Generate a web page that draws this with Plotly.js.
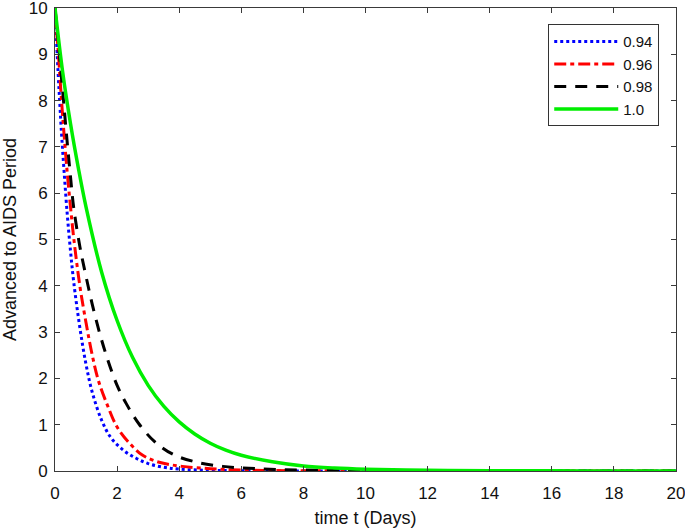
<!DOCTYPE html>
<html><head><meta charset="utf-8">
<script src="https://cdn.plot.ly/plotly-3.0.1.min.js"></script>
<style>body{margin:0;padding:0;background:#fff}#chart{width:685px;height:528px}</style>
</head><body><div id="chart"></div>
<script>
const seriesNames = ["0.94", "0.96", "0.98", "1.0"];
const tBlue  = [0, 0.05, 0.1, 0.15, 0.2, 0.3, 0.4, 0.5, 0.6, 0.8, 1.0, 1.2, 1.5, 1.8, 2.2, 2.6, 3, 3.5, 4, 5, 6, 8, 10, 20];
const yBlue  = [10, 9.3, 8.6, 8.0, 7.4, 6.4, 5.5, 4.75, 4.1, 3.1, 2.3, 1.7, 1.1, 0.72, 0.45, 0.28, 0.16, 0.08, 0.04, 0.015, 0.006, 0.002, 0, 0];
const tRed   = [0, 0.05, 0.1, 0.2, 0.3, 0.4, 0.5, 0.6, 0.8, 1.0, 1.2, 1.4, 1.7, 2.0, 2.4, 2.8, 3.2, 3.6, 4.1, 5, 6, 7, 10, 20];
const yRed   = [10, 9.5, 9.1, 8.1, 7.2, 6.4, 5.7, 5.05, 4.0, 3.2, 2.5, 1.95, 1.4, 0.95, 0.6, 0.35, 0.22, 0.15, 0.1, 0.05, 0.02, 0.01, 0, 0];
const tBlack = [0, 0.1, 0.2, 0.3, 0.4, 0.5, 0.6, 0.8, 1.0, 1.2, 1.45, 1.7, 2.0, 2.3, 2.7, 3.2, 3.8, 4.5, 5.4, 6.5, 8, 10, 12, 20];
const yBlack = [10, 9.3, 8.55, 7.8, 7.05, 6.35, 5.7, 4.85, 4.2, 3.6, 2.95, 2.4, 1.85, 1.45, 1.02, 0.64, 0.36, 0.2, 0.1, 0.05, 0.02, 0.008, 0.003, 0];
const tGreen = [0, 0.25, 0.5, 0.75, 1, 1.5, 2, 2.5, 3, 3.5, 4, 4.5, 5, 5.5, 6, 7, 8, 9, 10, 12, 14, 17, 20];
const yGreen = [10, 8.6, 7.5, 6.55, 5.7, 4.3, 3.25, 2.45, 1.85, 1.4, 1.06, 0.8, 0.6, 0.45, 0.34, 0.2, 0.11, 0.065, 0.04, 0.015, 0.006, 0.002, 0];
const xTicks = [0, 2, 4, 6, 8, 10, 12, 14, 16, 18, 20];
const yTicks = [0, 1, 2, 3, 4, 5, 6, 7, 8, 9, 10];

const lineShape = {shape: 'spline', smoothing: 1};
const traces = [
  {x: tBlue, y: yBlue, name: seriesNames[0], mode: 'lines',
   line: Object.assign({color: '#0000ff', width: 3, dash: '3px,3px'}, lineShape)},
  {x: tRed, y: yRed, name: seriesNames[1], mode: 'lines',
   line: Object.assign({color: '#ff0000', width: 3, dash: '12px,4px,4px,4px'}, lineShape)},
  {x: tBlack, y: yBlack, name: seriesNames[2], mode: 'lines',
   line: Object.assign({color: '#000000', width: 3, dash: '12px,9px'}, lineShape)},
  {x: tGreen, y: yGreen, name: seriesNames[3], mode: 'lines',
   line: Object.assign({color: '#00ee00', width: 3.5}, lineShape)}
];
const fam = 'Liberation Sans, Arial, Helvetica, sans-serif';
const axisCommon = {
  showgrid: false, zeroline: false, showline: true, linecolor: '#3a3a3a', linewidth: 1,
  mirror: 'ticks', ticks: 'inside', ticklen: 5, tickcolor: '#3a3a3a', tickwidth: 1,
  ticklabeloverflow: 'allow',
  tickfont: {family: fam, size: 17, color: '#111'}
};
const layout = {
  width: 685, height: 528,
  margin: {l: 55, r: 9, t: 8, b: 57},
  paper_bgcolor: '#fff', plot_bgcolor: '#fff',
  font: {family: fam, size: 16, color: '#111'},
  showlegend: true,
  xaxis: Object.assign({}, axisCommon, {range: [0, 20], tickvals: xTicks, ticktext: xTicks.map(String),
    ticklabelstandoff: 7,
    title: {text: 'time t (Days)', font: {family: fam, size: 18, color: '#111'}, standoff: 8}}),
  yaxis: Object.assign({}, axisCommon, {range: [0, 10], tickvals: yTicks, ticktext: yTicks.map(String),
    ticklabelstandoff: 3,
    title: {text: 'Advanced to AIDS Period', font: {family: fam, size: 18, color: '#111'}, standoff: 16}}),
  legend: {x: 0.973, y: 0.965, xanchor: 'right', yanchor: 'top', bgcolor: '#fff',
    bordercolor: '#333', borderwidth: 1, font: {family: fam, size: 15, color: '#111'},
    itemwidth: 64, tracegroupgap: 0}
};
Plotly.newPlot('chart', traces, layout, {displayModeBar: false, staticPlot: true});
</script></body></html>
